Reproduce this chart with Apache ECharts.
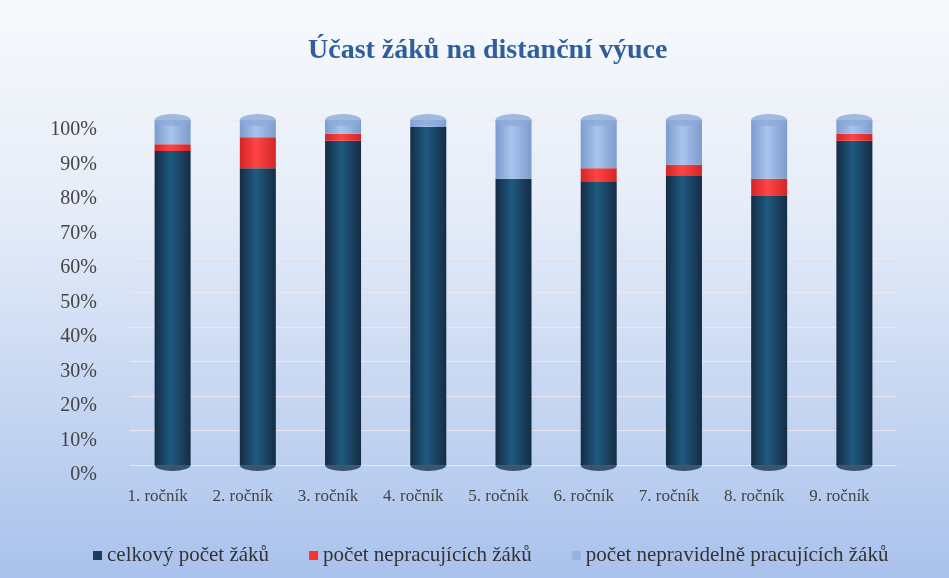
<!DOCTYPE html>
<html lang="cs">
<head>
    <meta charset="UTF-8">
    <title>Účast žáků na distanční výuce</title>
    <script src="https://cdn.jsdelivr.net/npm/echarts@6/dist/echarts.min.js"></script>
</head>
<body style="margin:0">
<div id="chart" style="width: 949px; height: 578px;"></div>

<script type="text/javascript">
    // data (procenta)
    var categories = ['1. ročník', '2. ročník', '3. ročník', '4. ročník', '5. ročník',
                      '6. ročník', '7. ročník', '8. ročník', '9. ročník'];
    var celkovy = [91, 86, 94, 98, 83, 82, 84, 78, 94];
    var nepracujici = [2, 9, 2, 0, 0, 4, 3, 5, 2];
    var nepravidelne = [7, 5, 4, 2, 17, 14, 13, 17, 4];
    var yTicks = [0, 10, 20, 30, 40, 50, 60, 70, 80, 90, 100];

    var totals = categories.map(function (c, i) {
        return celkovy[i] + nepracujici[i] + nepravidelne[i];
    });
    var zeros = categories.map(function () { return yTicks[0]; });

    var serif = 'Liberation Serif';

    // válcový vzhled – vodorovný přechod
    function cyl(edge, mid) {
        return new echarts.graphic.LinearGradient(0, 0, 1, 0, [
            {offset: 0, color: edge},
            {offset: 0.45, color: mid},
            {offset: 1, color: edge}
        ]);
    }

    var myChart = echarts.init(document.getElementById('chart'));

    var option = {
        backgroundColor: new echarts.graphic.LinearGradient(0, 0, 0, 1, [
            {offset: 0, color: '#f7f9fc'},
            {offset: 0.35, color: '#e6edf8'},
            {offset: 1, color: '#a9c2ec'}
        ]),
        title: {
            text: 'Účast žáků na distanční výuce',
            left: 303,
            top: 32,
            textStyle: {
                fontFamily: serif,
                fontSize: 28,
                fontWeight: 'bold',
                color: '#2f5e9c'
            }
        },
        legend: {
            data: [
                {name: 'celkový počet žáků', itemStyle: {color: '#1d3c5c'}},
                {name: 'počet nepracujících žáků', itemStyle: {color: '#ff3030'}},
                {name: 'počet nepravidelně pracujících žáků', itemStyle: {color: '#93b1e3'}}
            ],
            left: 88,
            top: 540,
            icon: 'rect',
            itemWidth: 9,
            itemHeight: 9,
            itemGap: 40,
            textStyle: {fontFamily: serif, fontSize: 21, color: '#333'}
        },
        grid: {
            left: 130,
            right: 52,
            top: 120,
            bottom: 113
        },
        xAxis: {
            type: 'category',
            data: categories,
            axisLine: {show: false},
            axisTick: {show: false},
            axisLabel: {
                fontFamily: serif,
                fontSize: 17,
                color: '#444',
                margin: 23,
                padding: [0, 30, 0, 0]
            }
        },
        yAxis: {
            type: 'value',
            min: 0,
            max: 100,
            interval: 10,
            axisLine: {show: false},
            axisTick: {show: false},
            axisLabel: {
                formatter: '{value}%',
                fontFamily: serif,
                fontSize: 20,
                color: '#444',
                margin: 33,
                verticalAlign: 'top'
            },
            splitLine: {lineStyle: {color: 'rgba(240,232,240,0.9)', width: 1}}
        },
        series: [
            {
                type: 'scatter',
                data: zeros,
                symbol: 'circle',
                symbolSize: [36, 12],
                itemStyle: {color: '#1a3550'},
                z: 1,
                silent: true
            },
            {
                name: 'celkový počet žáků',
                type: 'bar',
                stack: 'total',
                barWidth: 36,
                data: celkovy,
                itemStyle: {color: cyl('#152c44', '#1f5a80')},
                z: 2
            },
            {
                name: 'počet nepracujících žáků',
                type: 'bar',
                stack: 'total',
                data: nepracujici,
                itemStyle: {color: cyl('#d42525', '#ff4545')},
                z: 2
            },
            {
                name: 'počet nepravidelně pracujících žáků',
                type: 'bar',
                stack: 'total',
                data: nepravidelne,
                itemStyle: {color: cyl('#7c9bcb', '#a9c4ee')},
                z: 2
            },
            {
                type: 'scatter',
                data: totals,
                symbol: 'circle',
                symbolSize: [36, 12],
                itemStyle: {color: '#8caad9'},
                z: 3,
                silent: true
            }
        ]
    };

    myChart.setOption(option);
</script>
</body>
</html>
